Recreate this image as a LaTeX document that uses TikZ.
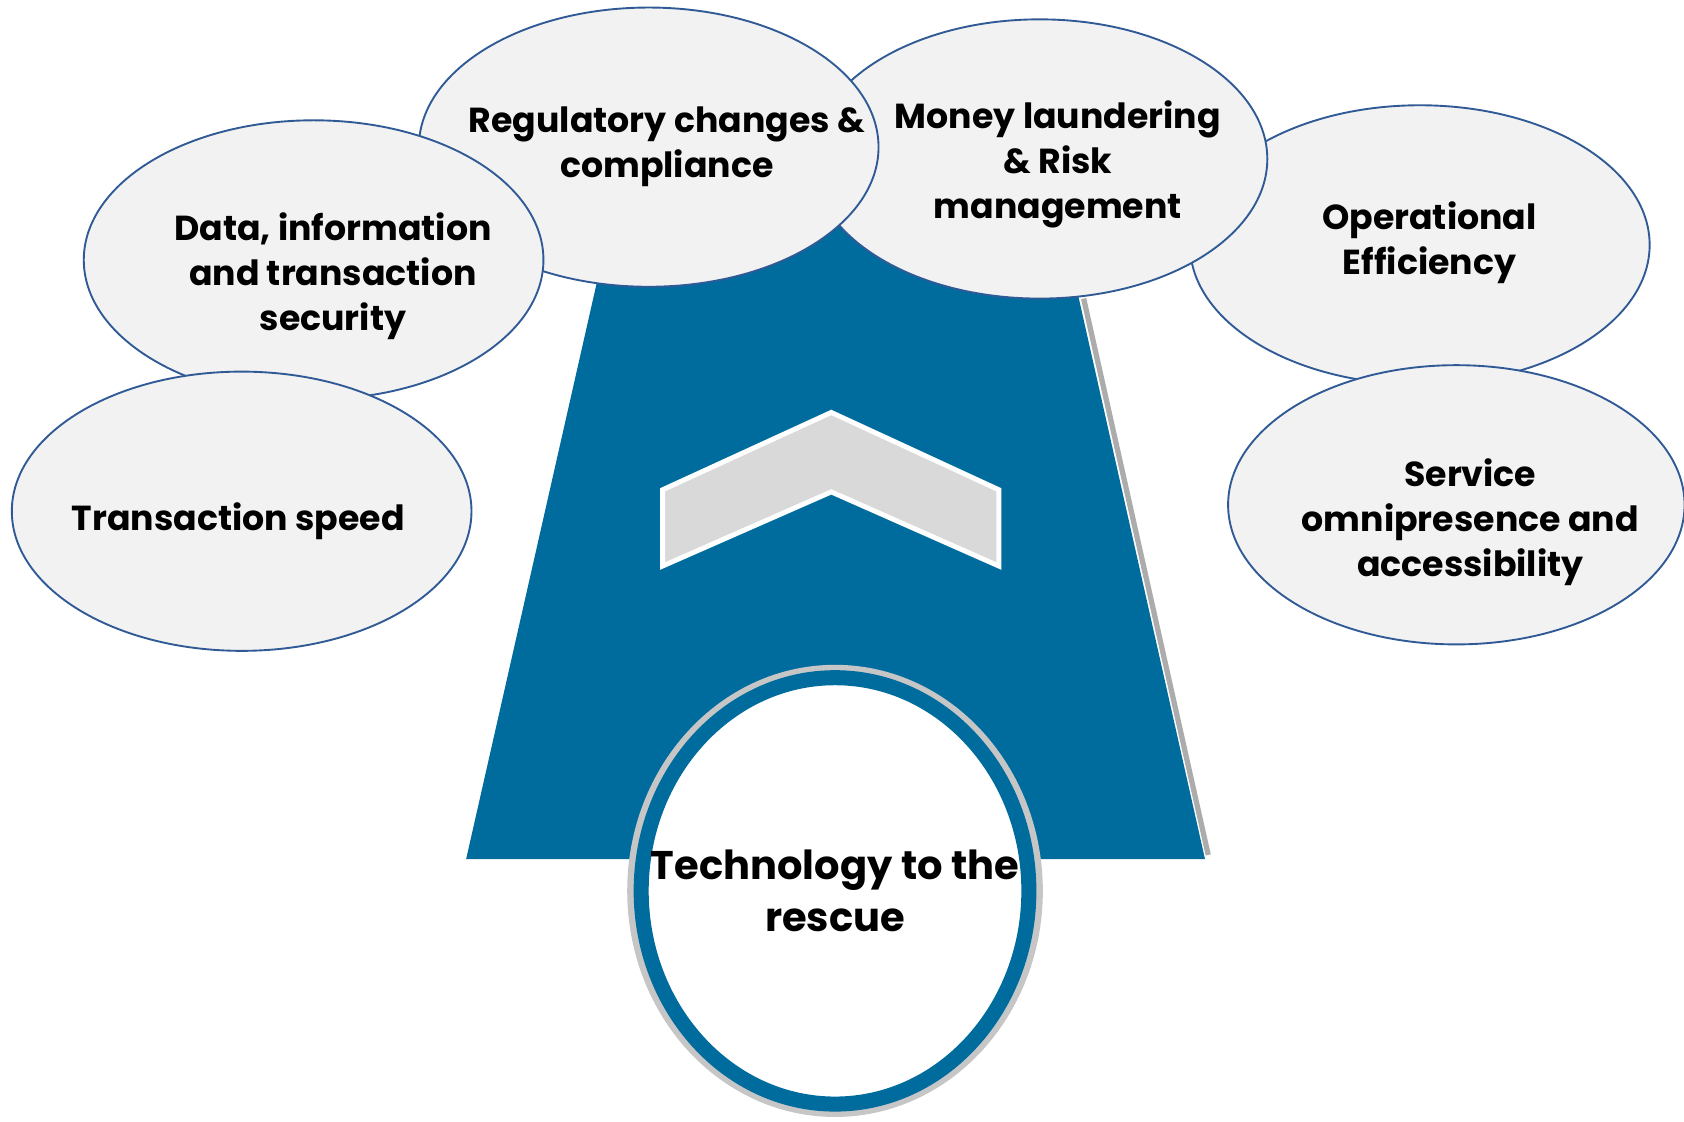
\documentclass[tikz,border=0pt]{standalone}
\usepackage{fontspec}
\setmainfont{Poppins}
\usepackage{tikz}
\usetikzlibrary{shapes.geometric,calc}
\definecolor{roadblue}{RGB}{0,108,158}
\definecolor{bubbleline}{RGB}{47,90,150}
\definecolor{bubblefill}{RGB}{242,242,242}
\definecolor{chevgray}{RGB}{217,217,217}

\begin{document}
\begin{tikzpicture}[
    bubble/.style={ellipse, draw=bubbleline, line width=0.5pt, fill=bubblefill,
      minimum width=4.28cm, minimum height=2.6cm, inner sep=0pt},
    txt/.style={align=center, font=\bfseries\fontsize{9.2}{11.95}\selectfont},
    bigtxt/.style={align=center, font=\bfseries\fontsize{10.6}{13.7}\selectfont}]
      \useasboundingbox (0,0) rectangle (15.68,-10.44);

      %%road
      \fill [roadblue] (5.70,-2.00) -- (4.34,-8.00) -- (11.22,-8.00) -- (9.87,-2.00) -- cycle;
      \draw [gray!65, line width=1.4pt] (10.09,-2.78) -- (11.25,-7.96);

      %%chevron
      \draw [white, line width=1.3pt, fill=chevgray] (6.17,-4.56) -- (7.74,-3.84) -- (9.30,-4.56)
            -- (9.30,-5.27) -- (7.74,-4.58) -- (6.17,-5.27) -- cycle;

      %%bubbles
      \node [bubble] (eff) at (13.22,-2.28) {};
      \node [bubble, minimum width=4.25cm] (serv) at (13.56,-4.70) {};
      \node [bubble, minimum width=4.24cm] (money) at (9.68,-1.48) {};
      \node [bubble] (reg) at (6.04,-1.37) {};
      \node [bubble] (data) at (2.92,-2.42) {};
      \node [bubble] (speed) at (2.25,-4.76) {};

      \node [txt] at ($(eff)+(0.09,0.02)$) {Operational\\Efficiency};
      \node [txt] at ($(serv)+(0.13,-0.16)$) {Service\\omnipresence and\\accessibility};
      \node [txt] at ($(money)+(0.17,-0.05)$) {Money laundering\\\& Risk\\management};
      \node [txt] at ($(reg)+(0.17,0.00)$) {Regulatory changes \&\\compliance};
      \node [txt] at ($(data)+(0.18,-0.15)$) {Data, information\\and transaction\\security};
      \node [txt] at ($(speed)+(-0.03,-0.09)$) {Transaction speed};

      %%technology
      \node [ellipse, fill=gray!45, minimum width=3.87cm, minimum height=4.21cm, inner sep=0pt] (ring) at (7.775,-8.295) {};
      \node [ellipse, draw=roadblue, line width=0.14cm, fill=white, minimum width=3.61cm,
             minimum height=3.97cm, inner sep=0pt] (tech) at (ring) {};
      \node [bigtxt] at (tech) {Technology to the\\rescue};

\end{tikzpicture}
\end{document}
